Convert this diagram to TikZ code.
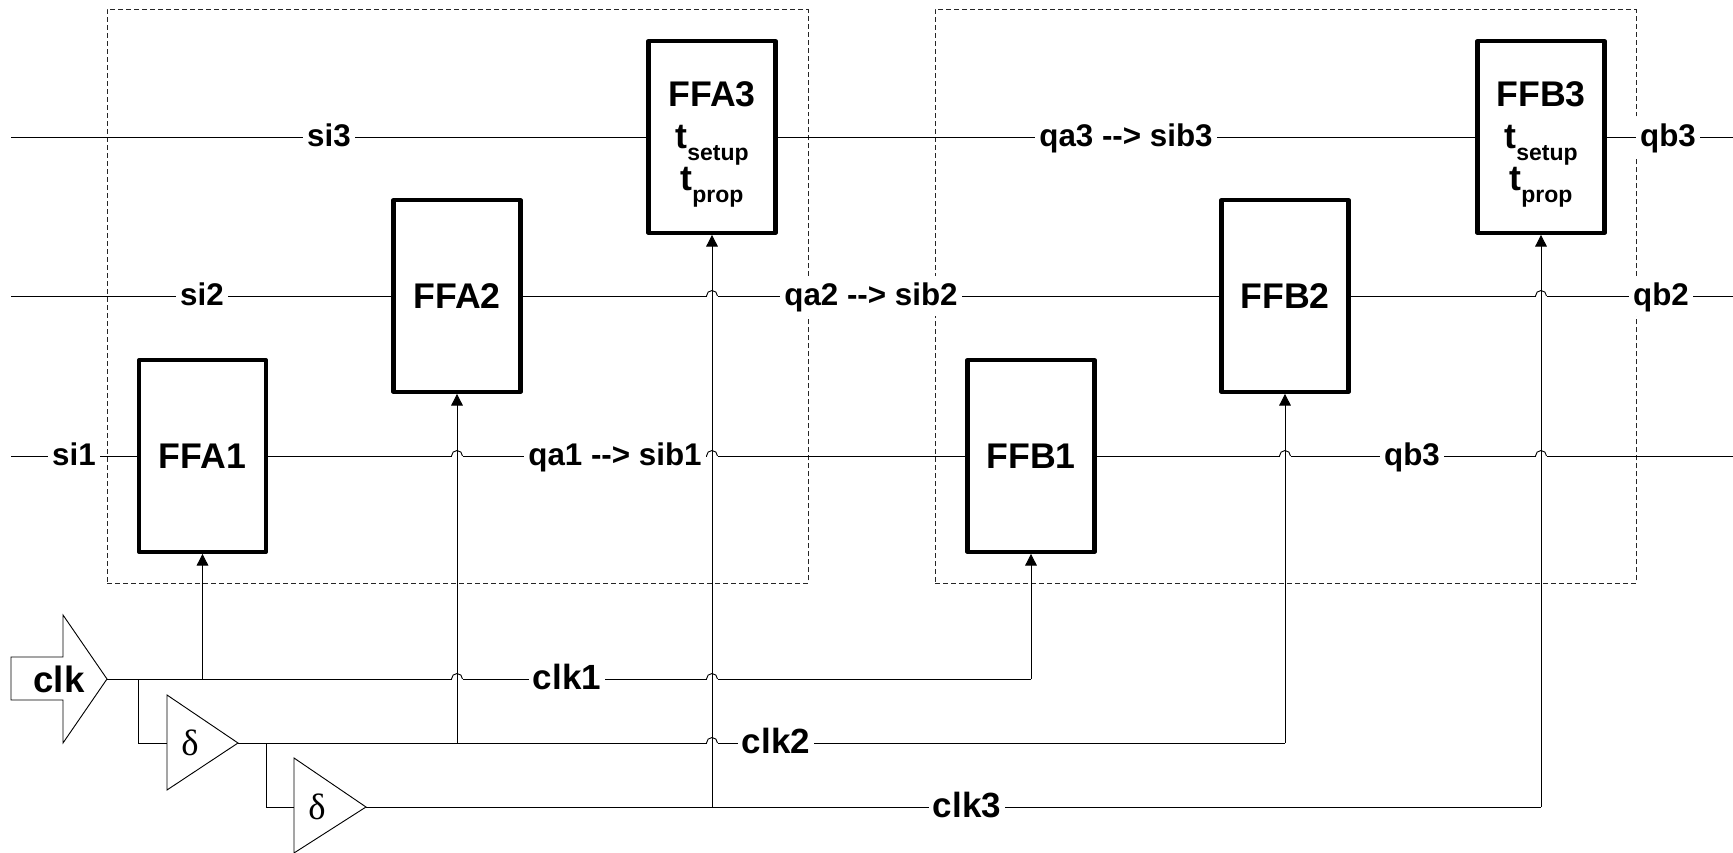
\documentclass[tikz,border=0pt]{standalone}
\usepackage{fontspec}
\setmainfont{Liberation Sans}
\newfontfamily\deltafont{Liberation Serif}
\usetikzlibrary{positioning,arrows.meta,calc}
\newcommand{\tsub}[1]{t\raisebox{-7.2pt}{\fontsize{13.8}{14}\selectfont #1}}
\newcommand{\fftimed}[1]{\rule{0pt}{24pt}#1\\[-0.3pt]\tsub{setup}\\[0pt]\tsub{prop}}

\begin{document}
\begin{tikzpicture}[
        x=0.6pt,
        y=-0.6pt,
        sig/.style={black, line width=0.55pt},
        clkline/.style={sig, -{Triangle[length=7pt,width=7pt]}},
        group/.style={draw=black!85, line width=0.5pt, dash pattern=on 3pt off 1.8pt, minimum width=420.6pt, minimum height=344.4pt, inner sep=0pt},
        ffbox/.style={draw, line width=2.5pt, line join=round, fill=white, minimum width=76.2pt, minimum height=115pt, inner sep=0pt, align=center, font=\bfseries\fontsize{21.4}{25.5}\selectfont},
        sigtxt/.style={fill=white, inner xsep=2.4pt, inner ysep=2pt, text height=16pt, text depth=4pt, font=\bfseries\fontsize{18.8}{20}\selectfont},
        clktxt/.style={sigtxt, font=\bfseries\fontsize{21}{22}\selectfont},
        gate/.style={draw, line width=0.55pt, line join=miter, fill=white},
        hopcut/.style={white, line width=1.4pt},
        hoparc/.style={sig}
    ]
        \useasboundingbox (0,0) rectangle (1733,853);

        % Dashed groups behind everything else.
        \node[group] (grpa) at (457.5,296.5) {};
        \node[group] (grpb) at (1285.5,296.5) {};

        % Flip-flops.
        \node[ffbox] (ffa1) at (202.5,456) {FFA1};
        \node[ffbox] (ffa2) at (457,296) {FFA2};
        \node[ffbox] (ffa3) at (712,137) {\fftimed{FFA3}};
        \node[ffbox] (ffb1) at (1031,456) {FFB1};
        \node[ffbox] (ffb2) at (1285,296) {FFB2};
        \node[ffbox] (ffb3) at (1541,137) {\fftimed{FFB3}};

        % Clock source and the two delay stages.
        \draw[gate] (11,657) -- (63,657) -- (63,615) -- (107,679) -- (63,743) -- (63,700) -- (11,700) -- cycle;
        \node[font=\bfseries\fontsize{22}{23}\selectfont] (clksrc) at (59,679) {clk};
        \draw[gate] (167,695) -- (238,743) -- (167,790) -- cycle;
        \node[font=\deltafont\fontsize{22}{23}\selectfont] (dlya) at (190,743) {δ};
        \draw[gate] (294,758) -- (366,807) -- (294,853) -- cycle;
        \node[font=\deltafont\fontsize{22}{23}\selectfont] (dlyb) at (317,807) {δ};

        \coordinate (ckout) at (107,679);
        \coordinate (ckdbl) at (330,679);
        \coordinate (dlyain) at (167,743);
        \coordinate (dlyaout) at (238,743);
        \coordinate (dlybin) at (294,807);
        \coordinate (dlybout) at (366,807);
        \coordinate (tapa) at (138,679);
        \coordinate (tapb) at (266,743);
        \coordinate (tapffa1) at (ffa1.south |- ckout);
        \coordinate (tapffa2) at (ffa2.south |- dlyaout);
        \coordinate (tapffa3) at (ffa3.south |- dlybout);

        \coordinate (inone) at (11,456);
        \coordinate (intwo) at (11,296);
        \coordinate (inthree) at (11,137);
        \coordinate (outone) at (1733,456);
        \coordinate (outtwo) at (1733,296);
        \coordinate (outthree) at (1733,137);

        % Data lines.
        \draw[sig] (inone) -- (ffa1);
        \draw[sig] (intwo) -- (ffa2);
        \draw[sig] (inthree) -- (ffa3);
        \draw[sig] (ffa1) -- (ffb1);
        \draw[sig] (ffa2) -- (ffb2);
        \draw[sig] (ffa3) -- (ffb3);
        \draw[sig] (ffb1) -- (outone);
        \draw[sig] (ffb2) -- (outtwo);
        \draw[sig] (ffb3) -- (outthree);

        % Clock lines, horizontal parts first so the hops can cut them.
        \draw[sig] (ckout) -- (ffb1.south |- ckout);
        \draw[sig] (dlyaout) -- (ffb2.south |- dlyaout);
        \draw[sig] (dlybout) -- (ffb3.south |- dlybout);
        \draw[sig] (tapffa1) -- (ckdbl);
        \draw[sig] (tapa) |- (dlyain);
        \draw[sig] (tapb) |- (dlybin);

        % Line hops where a clock riser crosses a horizontal.
        \foreach \riser/\level in {ffa2/ffa1,ffa3/ffa1,ffb2/ffa1,ffb3/ffa1,ffa3/ffa2,ffb3/ffa2,ffa2/ckout,ffa3/ckout,ffa3/dlyaout}{
            \draw[hopcut] (\riser.south |- \level) ++(-5.5,0) -- ++(11,0);
            \draw[hoparc] (\riser.south |- \level) ++(-5.5,0) arc[start angle=180,end angle=0,radius=3.3pt];
        }

        % Clock risers.
        \draw[clkline] (tapffa1) -- (ffa1.south);
        \draw[clkline] (tapffa2) -- (ffa2.south);
        \draw[clkline] (tapffa3) -- (ffa3.south);
        \draw[clkline] (ffb1.south |- ckout) -- (ffb1.south);
        \draw[clkline] (ffb2.south |- dlyaout) -- (ffb2.south);
        \draw[clkline] (ffb3.south |- dlybout) -- (ffb3.south);

        % Labels sit on the lines and blank them out.
        \node[sigtxt] (lblsi1) at (74,456) {si1};
        \node[sigtxt] (lblsi2) at (202,296) {si2};
        \node[sigtxt] (lblsi3) at (329,137) {si3};
        \node[sigtxt] (lblqa1) at (615,456) {qa1 -{}-> sib1};
        \node[sigtxt] (lblqa2) at (871,296) {qa2 -{}-> sib2};
        \node[sigtxt] (lblqa3) at (1126,137) {qa3 -{}-> sib3};
        \node[sigtxt] (lblqb1) at (1412,456) {qb3};
        \node[sigtxt] (lblqb2) at (1661,296) {qb2};
        \node[sigtxt] (lblqb3) at (1668,137) {qb3};
        \node[clktxt] (lblck1) at (567,679) {clk1};
        \node[clktxt] (lblck2) at (776,743) {clk2};
        \node[clktxt] (lblck3) at (967,807) {clk3};
    \end{tikzpicture}
\end{document}
